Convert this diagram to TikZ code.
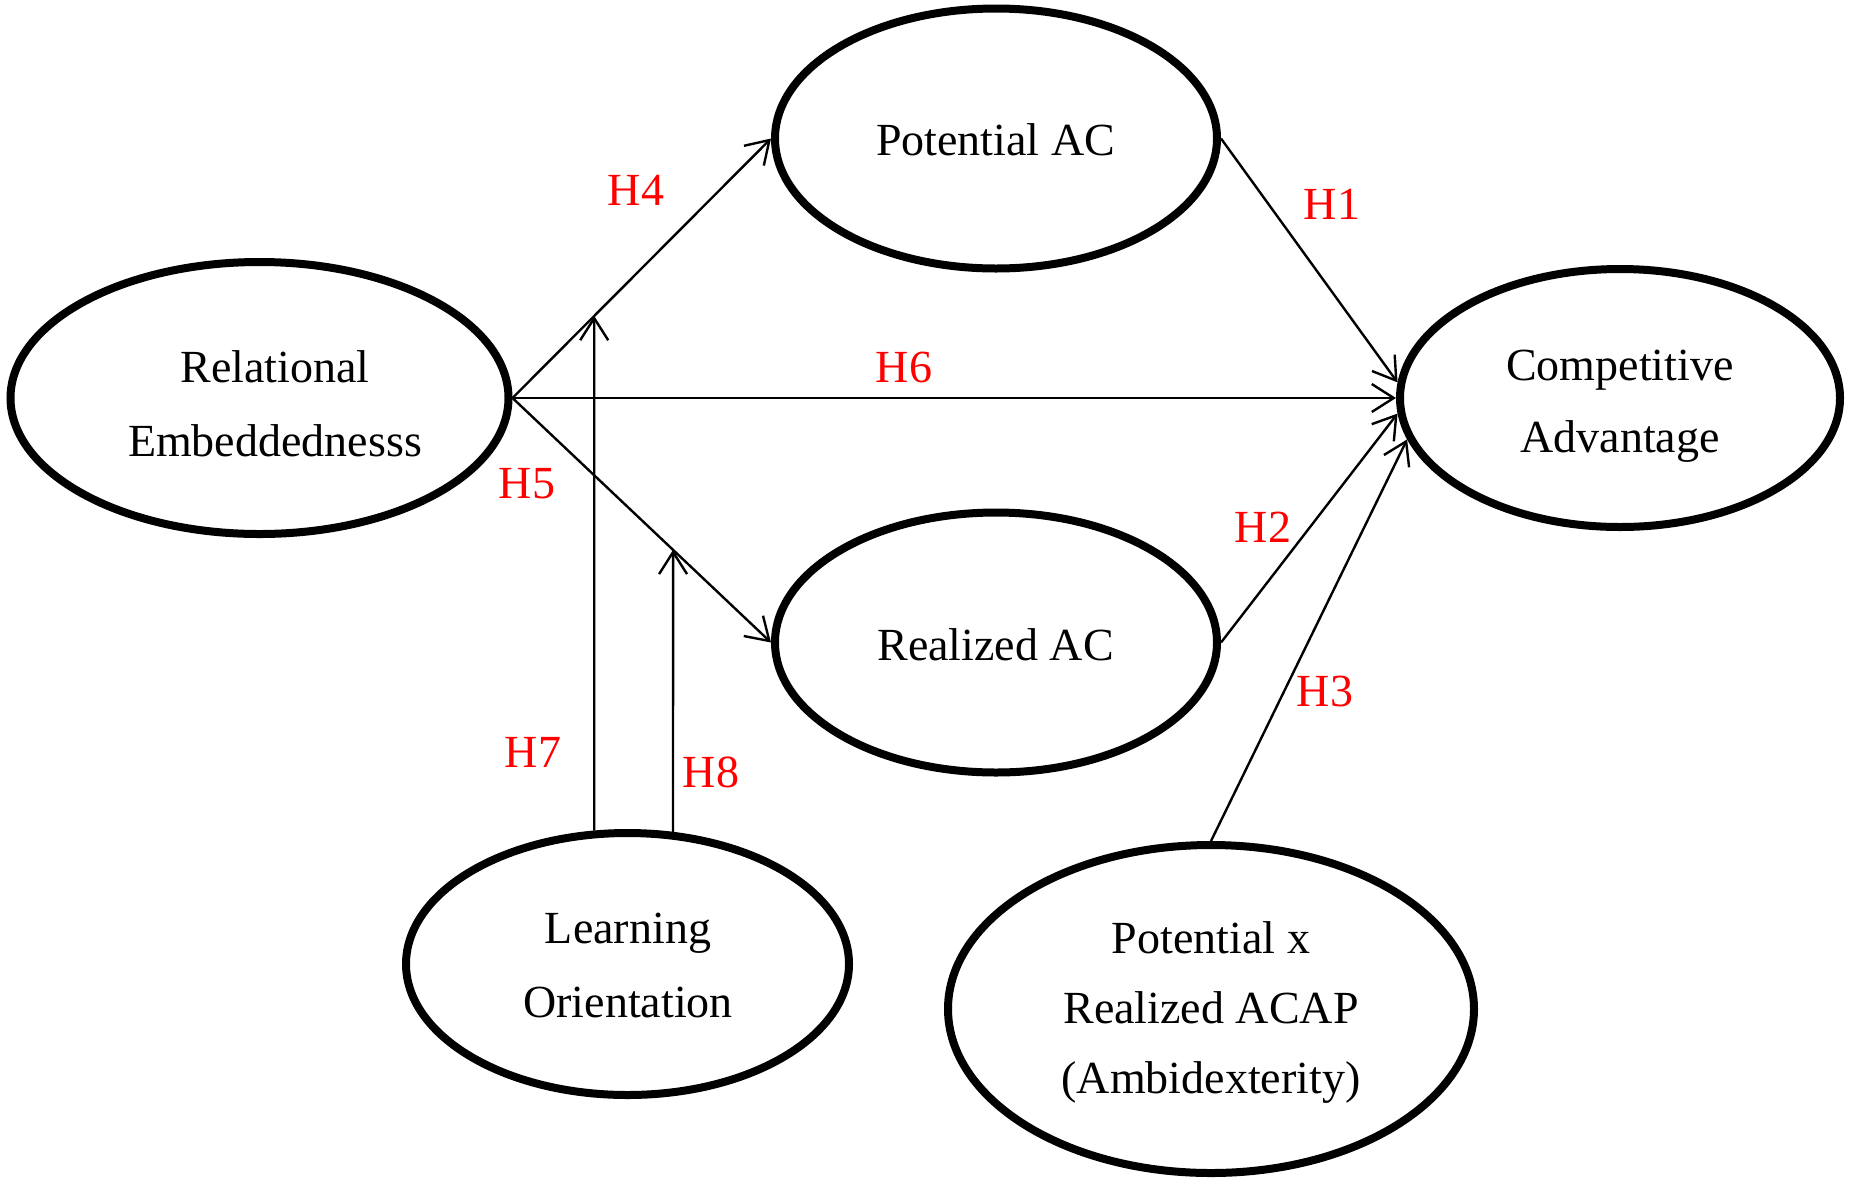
\documentclass[tikz,border=0pt]{standalone}
\usepackage{fontspec}
\setmainfont{Liberation Serif}
\usetikzlibrary{shapes.geometric,arrows.meta,calc}
\begin{document}
\begin{tikzpicture}[x=0.5pt,y=-0.5pt,
  latent/.style={ellipse, draw, line width=4pt, inner sep=0pt},
  txt/.style={align=center, font=\fontsize{23}{37}\selectfont, inner sep=0pt},
  hyp/.style={text=red, font=\fontsize{23}{28}\selectfont, inner sep=0pt},
  link/.style={line width=1.2pt, -{Straight Barb[length=11pt,width=14pt]}}]
\useasboundingbox (0,0) rectangle (1852,1179);
% latent constructs
\node[latent, minimum width=249pt, minimum height=136pt] (RE) at (259.5,398) {};
\node[latent, minimum width=221pt, minimum height=130pt] (PAC) at (996,138.5) {};
\node[latent, minimum width=221pt, minimum height=130pt] (RAC) at (996,642.5) {};
\node[latent, minimum width=220pt, minimum height=129pt] (CA) at (1620,398) {};
\node[latent, minimum width=221.5pt, minimum height=131pt] (LO) at (627.5,964) {};
\node[latent, minimum width=263pt, minimum height=164pt] (PXR) at (1211,1009) {};
% texts
\node[txt] (REt) at (275,404) {Relational\\Embeddednesss};
\node[txt] (PACt) at (995.5,139.5) {Potential AC};
\node[txt] (RACt) at (995.5,644.5) {Realized AC};
\node[txt, font=\fontsize{23}{36}\selectfont] (CAt) at (1620,406.5) {Competitive\\Advantage};
\node[txt] (LOt) at (628,965.5) {Learning\\Orientation};
\node[txt, font=\fontsize{23}{35}\selectfont] (PXRt) at (1211,1012.5) {Potential x\\Realized ACAP\\(Ambidexterity)};
% direct paths
\draw[link] (RE.east) -- (PAC.west);
\draw[link] (RE.east) -- (RAC.west);
\draw[link] (RE.east) -- (CA.west);
\draw[link] (PAC.east) -- (CA.176);
\draw[link] (RAC.east) -- (CA.184);
\draw[link] (PXR.north) -- (CA.191);
% moderation paths
\coordinate (h7a) at (LO.104);
\coordinate (h7b) at ($(h7a)+(0,-100)$);
\coordinate (h7top) at (intersection of RE.east--PAC.west and h7a--h7b);
\coordinate (h8a) at (LO.71);
\coordinate (h8b) at ($(h8a)+(0,-100)$);
\coordinate (h8top) at (intersection of RE.east--RAC.west and h8a--h8b);
\draw[link] (h7a) -- (h7top);
\draw[link] (h8a) -- (h8top);
% hypothesis labels
\node[hyp] (H1) at (1332,204) {H1};
\node[hyp] (H2) at (1263,527) {H2};
\node[hyp] (H3) at (1325,691) {H3};
\node[hyp] (H4) at (636,190) {H4};
\node[hyp] (H5) at (527,484) {H5};
\node[hyp] (H6) at (904,367) {H6};
\node[hyp] (H7) at (533,752) {H7};
\node[hyp] (H8) at (711,772) {H8};
\end{tikzpicture}
\end{document}
